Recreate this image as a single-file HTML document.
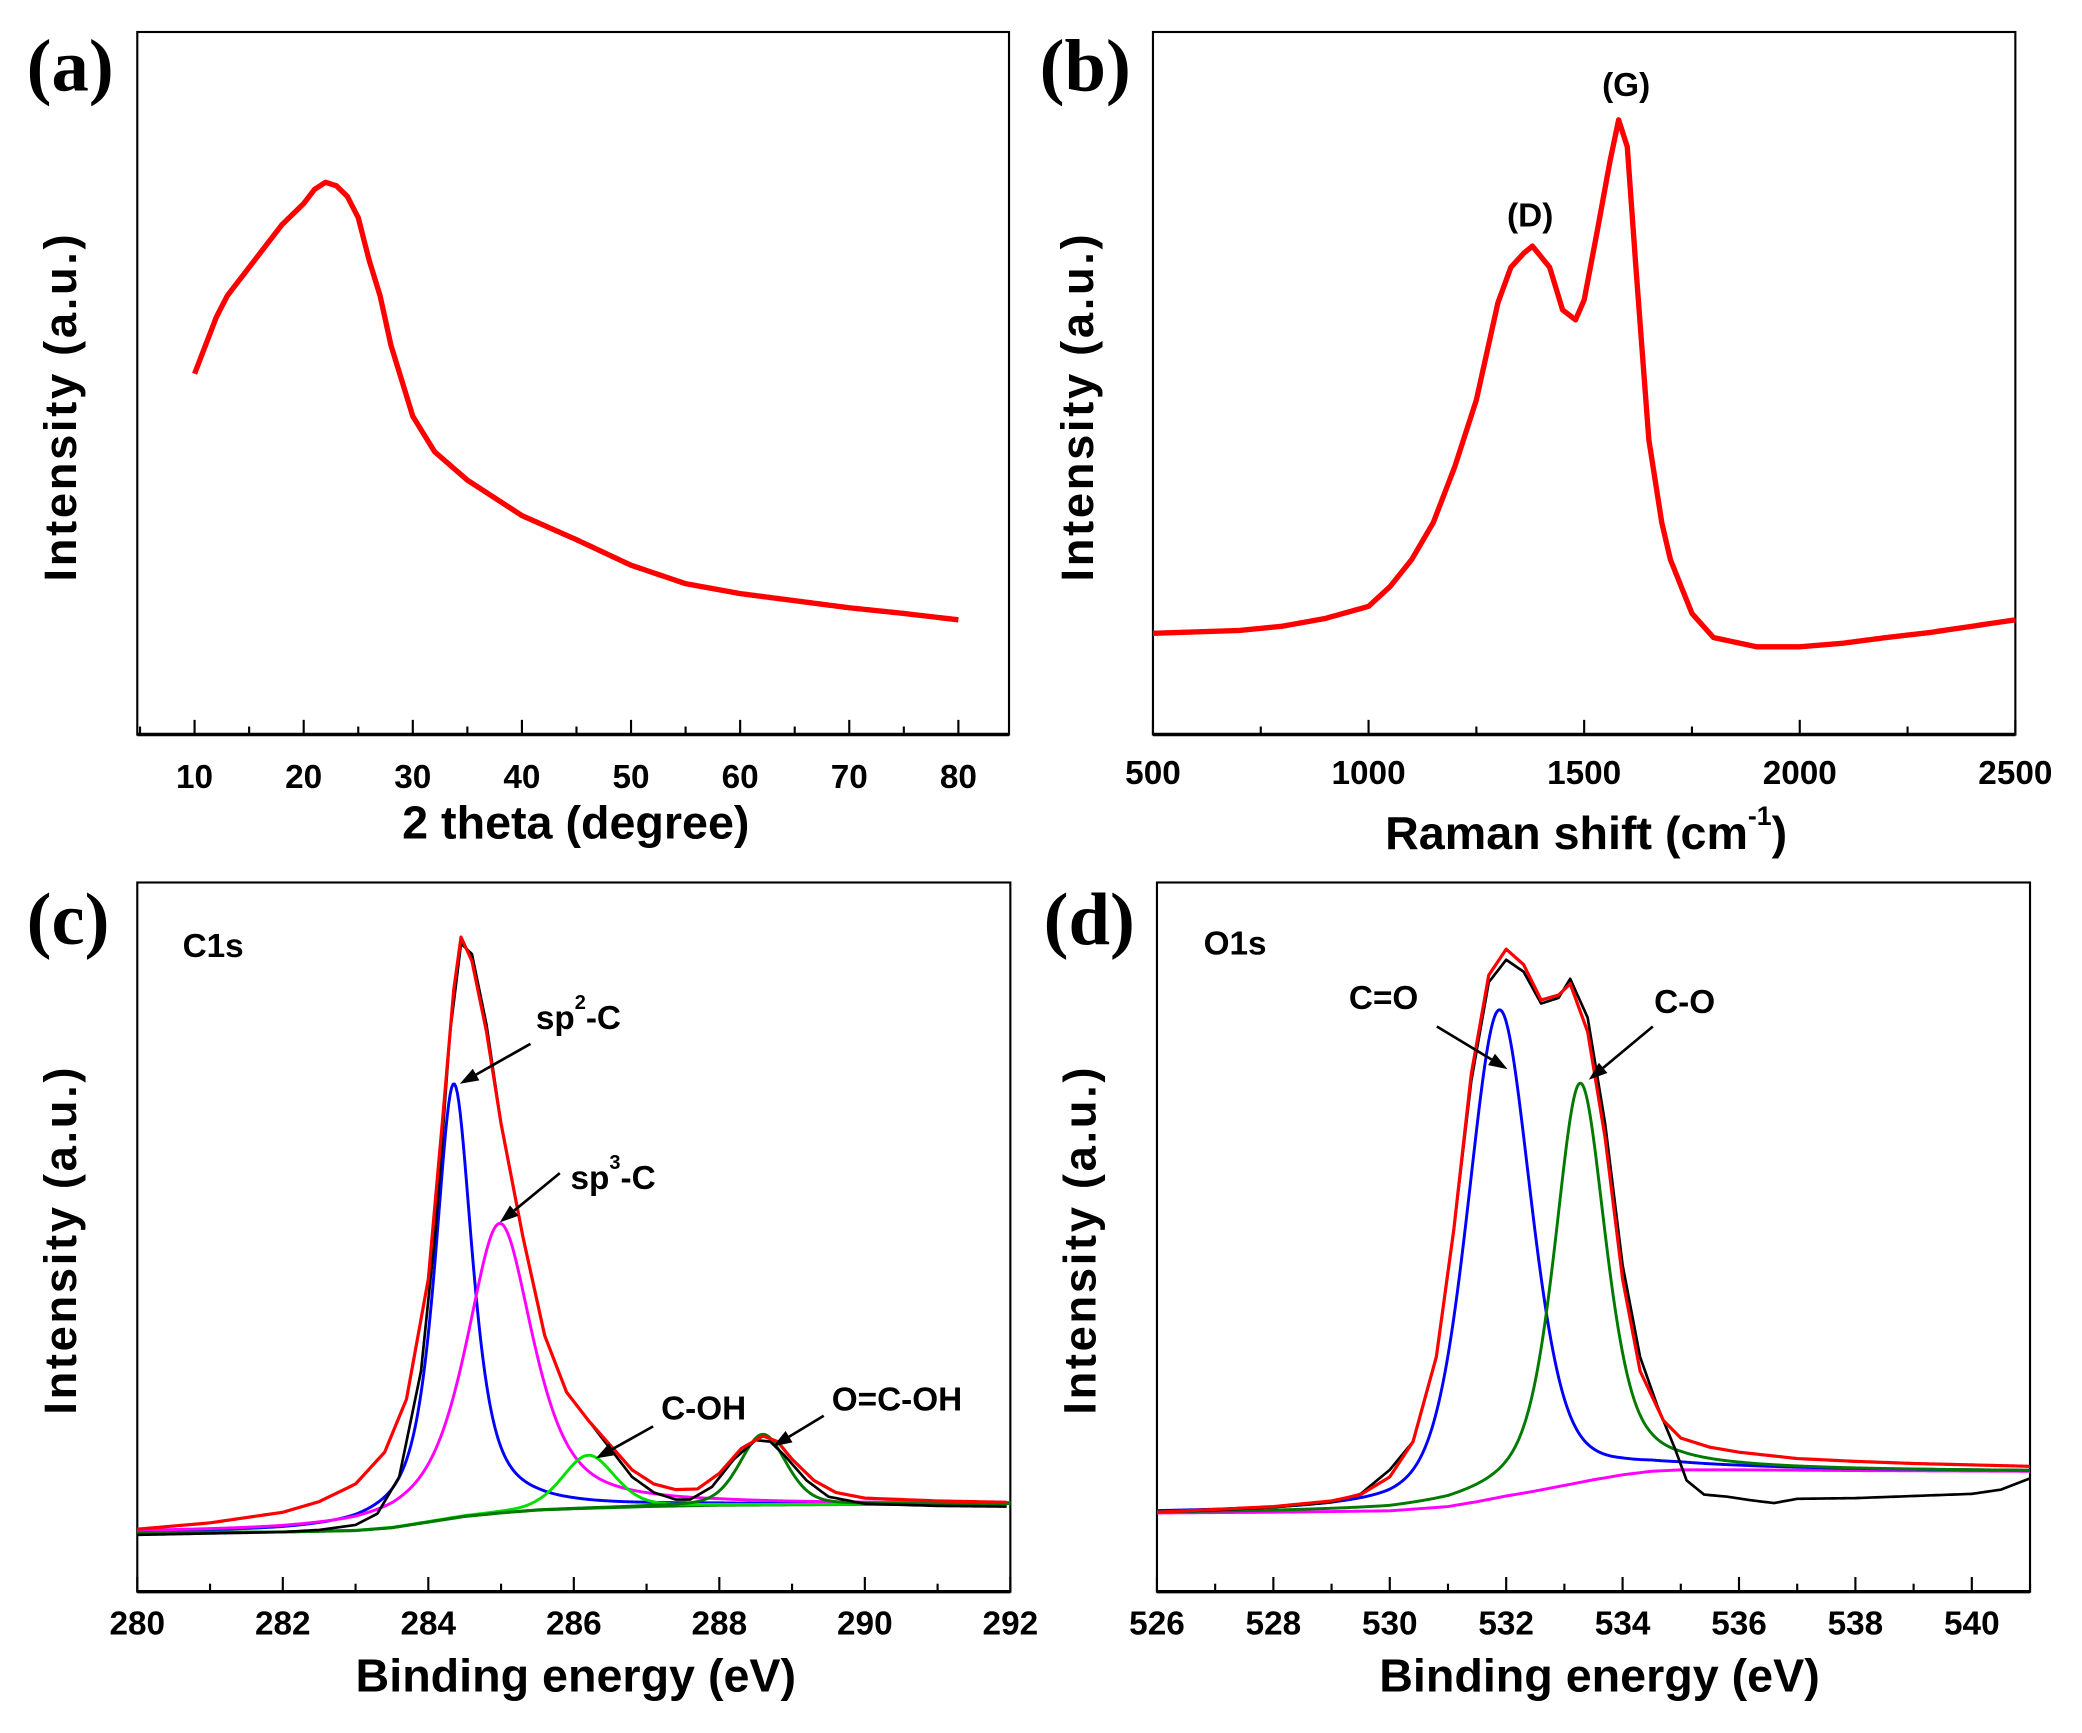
<!DOCTYPE html>
<html><head><meta charset="utf-8">
<style>
html,body{margin:0;padding:0;background:#fff;}
svg{display:block;}
text{font-family:"Liberation Sans",Arial,sans-serif;font-weight:bold;fill:#000;}
.tick{font-size:25px;}
.xt{font-size:35px;}
.yt{font-size:34px;letter-spacing:2px;}
.pl{font-family:"Liberation Serif",serif;font-size:56px;}
.ann{font-size:25px;}
</style></head>
<body>
<svg id="fig" width="2082" height="1733" viewBox="0 0 1562 1300" preserveAspectRatio="none" xmlns="http://www.w3.org/2000/svg">
<g id="root"></g>
</svg>
<script>
// ---------- Panel (a) XRD ----------
const xrdTheta = [10,11,12,13,15,17,18,20,21,22,23,24,25,26,27,28,29,30,32,35,38,40,45,50,55,60,65,70,75,80];
const xrdInt   = [52,56,60,63,67,71,73,76,78,79,78.5,77,74,68,63,56,51,46,41,37,34,32,28.6,25,22.4,21,20,19,18.2,17.3];
const xrdTicks = [10,20,30,40,50,60,70,80];
// ---------- Panel (b) Raman ----------
const ramanShift = [500,600,700,800,900,1000,1050,1100,1150,1200,1250,1300,1330,1360,1380,1420,1450,1480,1500,1530,1560,1580,1600,1620,1650,1680,1700,1750,1800,1900,2000,2100,2200,2300,2400,2500];
const ramanInt   = [15.4,15.6,15.8,16.4,17.5,19.2,22,25.8,31,38.9,48.3,62,67,69,70,67,61,59.6,62.4,72,82,87.8,84,67,42.7,31,25.8,18.2,14.8,13.5,13.5,14,14.8,15.5,16.4,17.3];
const ramanTicks = [500,1000,1500,2000,2500];
// ---------- Panel (c) C1s ----------
const c1sTicks = [280,282,284,286,288,290,292];
const c1sBgE   = [280,282,283,283.5,284,284.5,285,285.5,286,287,288,290,292];
const c1sBgV   = [9.1,9.2,9.4,9.8,10.6,11.4,11.9,12.3,12.5,12.8,13,13.1,13.2];
const c1sNames   = ["sp2","sp3","coh","ocoh"];
const c1sCenters = [284.35,284.98,286.2,288.6];
const c1sHeights = [61.5,41,7.5,10];
const c1sFwhm    = [0.62,1.1,0.85,0.75];
const c1sEta     = [0.75,0.7,0.3,0.3];
const c1sColors  = ["#0000ff","#ff00ff","#00e000","#007a00"];
const c1sEnvE = [280,281,282,282.5,283,283.4,283.7,284,284.2,284.35,284.45,284.6,284.8,285,285.3,285.6,285.9,286.2,286.5,286.8,287.1,287.4,287.7,288,288.3,288.6,288.8,289,289.3,289.6,290,291,292];
const c1sEnvV = [9.6,10.5,12,13.5,16,20.5,28,45,68,86,93.4,90,80,67,51,37,29,25,21.5,18,16,15.2,15.3,17.5,21,22.8,22,19.5,16.5,14.8,14,13.6,13.4];
const c1sExpE = [280,281,282,282.5,283,283.3,283.6,283.9,284.1,284.3,284.45,284.6,284.8,285,285.3,285.6,285.9,286.2,286.5,286.8,287.1,287.4,287.6,287.9,288.2,288.5,288.7,288.9,289.2,289.5,290,291,292];
const c1sExpV = [8.8,9.0,9.2,9.5,10.2,11.8,17,32,52,80,92.5,91,81,67,51,37,29,25,21,17,14.8,13.8,13.8,15.6,19.5,22.2,22,20,16.5,14.2,13.2,12.9,12.8];
// ---------- Panel (d) O1s ----------
const o1sTicks = [526,528,530,532,534,536,538,540];
const o1sBgE = [526,528,530,531,531.5,532,532.5,533,533.5,534,534.5,535,536,538,541];
const o1sBgV = [11.9,12,12.2,12.8,13.5,14.3,15,15.8,16.6,17.3,17.8,18,18,17.9,17.8];
const o1sCenters = [531.88,533.27];
const o1sHeights = [69,56.5];
const o1sFwhm    = [1.3,1.05];
const o1sEta     = [0.4,0.55];
const o1sColors  = ["#0000ff","#007a00"];
const o1sEnvE = [526,528,529,529.5,530,530.4,530.8,531.1,531.4,531.7,532,532.3,532.6,532.9,533.1,533.4,533.7,534,534.3,534.7,535,535.5,536,537,538,539,541];
const o1sEnvV = [12,12.8,13.6,14.5,17,22,34,52,74,88,91.7,89.5,84.5,85.2,86.8,80,65,45,32,25,22.5,21.2,20.5,19.6,19.2,18.9,18.5];
const o1sExpE = [526,527,528,529,529.5,530,530.4,530.8,531.1,531.4,531.7,532,532.3,532.6,532.9,533.1,533.4,533.7,534,534.3,534.6,534.9,535.1,535.4,535.8,536.2,536.6,537,538,539,540,540.5,541];
const o1sExpV = [12,12.3,12.7,13.4,14.6,18,22,34,52,73,87,90.2,88.5,84,84.8,87.5,82,67,47,34,27,21,16.5,14.5,14.2,13.7,13.3,13.9,14,14.3,14.6,15.2,16.8];

const NS = "http://www.w3.org/2000/svg";
const root = document.getElementById("root");
function mk(tag, attrs, parent){
  const e = document.createElementNS(NS, tag);
  for (const k in attrs) e.setAttribute(k, attrs[k]);
  (parent||root).appendChild(e);
  return e;
}
function interp(xs, ys, x){
  if (x <= xs[0]) return ys[0];
  for (let i=1;i<xs.length;i++) if (x <= xs[i]) { const t=(x-xs[i-1])/(xs[i]-xs[i-1]); return ys[i-1]+t*(ys[i]-ys[i-1]); }
  return ys[ys.length-1];
}
function pv(x,c,h,w,eta){ const d=(x-c)/(w/2); return h*(eta/(1+d*d)+(1-eta)*Math.exp(-Math.LN2*d*d)); }
function makeAxes(x0,x1,y0,y1,dmin,dmax,vmin,vmax){
  return { x: v => x0+(v-dmin)/(dmax-dmin)*(x1-x0), y: v => y1-(v-vmin)/(vmax-vmin)*(y1-y0) };
}
function frame(x0,y0,x1,y1,name){
  const g = mk("g",{});
  
  
  mk("rect",{x:x0,y:y0,width:x1-x0,height:y1-y0,fill:"none",stroke:"#000","stroke-width":1.6},g);
  mk("line",{x1:x0,y1:y1,x2:x1,y2:y1,stroke:"#000","stroke-width":2.6},g);
  return g;
}
function ticks(ax,y1,majors,minorStep,dmin,dmax,labelY,name){
  const g = mk("g",{});
  
  
  for (let v=majors[0]-minorStep*Math.floor((majors[0]-dmin)/minorStep); v<=dmax+1e-9; v+=minorStep){
    const isMajor = majors.some(m=>Math.abs(m-v)<1e-6);
    mk("line",{x1:ax.x(v),x2:ax.x(v),y1:y1,y2:y1-(isMajor?11:6),stroke:"#000","stroke-width":1.6},g);
  }
  majors.forEach(m=>{
    const t = mk("text",{x:ax.x(m),y:labelY,"text-anchor":"middle",class:"tick"},g);
    t.textContent = m;
    
    
  });
}
function path(pts,color,w,name){
  const p = mk("path",{d:"M"+pts.map(q=>q[0].toFixed(2)+","+q[1].toFixed(2)).join("L"),fill:"none",stroke:color,"stroke-width":w,"stroke-linejoin":"round"});
  
  
  return p;
}
function text(x,y,str,cls,name,extra){
  const t = mk("text",Object.assign({x:x,y:y,class:cls},extra||{}));
  t.textContent = str;
  
  
  return t;
}
function supText(x,y,a,sup,b,cls,supSize,dy,name,extra){
  const t = mk("text",Object.assign({x:x,y:y,class:cls},extra||{}));
  
  
  const s1=mk("tspan",{},t); s1.textContent=a;
  const s2=mk("tspan",{dy:-dy,style:"font-size:"+supSize+"px"},t); s2.textContent=sup;
  const s3=mk("tspan",{dy:dy},t); s3.textContent=b;
  return t;
}
function ytitle(x,y,name){
  text(0,0,"Intensity (a.u.)","yt",name,{transform:"translate("+x+","+y+") rotate(-90)","text-anchor":"middle"});
}
function arrow(x1,y1,x2,y2,name){
  const g = mk("g",{});
  
  
  const a=Math.atan2(y2-y1,x2-x1), L=14, W=5;
  const bx=x2-L*Math.cos(a), by=y2-L*Math.sin(a);
  mk("line",{x1:x1,y1:y1,x2:bx,y2:by,stroke:"#000","stroke-width":2},g);
  mk("polygon",{points:[x2,y2,bx+W*Math.sin(a),by-W*Math.cos(a),bx-W*Math.sin(a),by+W*Math.cos(a)].join(","),fill:"#000"},g);
}

// ===== Panel a =====
{
  const ax = makeAxes(103,757,25,557,4.75,84.64,0,100);
  frame(103,24,757,551,"panel-a");
  ticks(ax,551,xrdTicks,5,5,84.6,591,"panel-a");
  const pts=[]; for(let x=10;x<=80;x+=0.1) pts.push([ax.x(x),ax.y(interp(xrdTheta,xrdInt,x))]);
  path(pts,"#ff0000",4,"xrd-line");
  text(432,629,"2 theta (degree)","xt","panel-a-x-title",{"text-anchor":"middle"});
  ytitle(57,305,"panel-a-y-title");
  text(20,68,"(a)","pl","panel-a-label");
}
// ===== Panel b =====
{
  const ax = makeAxes(865,1512,25,557,500,2500,0,100);
  frame(865,24,1512,551,"panel-b");
  ticks(ax,551,ramanTicks,250,500,2500,588,"panel-b");
  const pts=[]; for(let x=500;x<=2500;x+=2) pts.push([ax.x(x),ax.y(interp(ramanShift,ramanInt,x))]);
  path(pts,"#ff0000",4,"raman-line");
  supText(1190,637,"Raman shift (cm","-1",")","xt",20,18,"panel-b-x-title",{"text-anchor":"middle"});
  ytitle(820,305,"panel-b-y-title");
  text(780,68,"(b)","pl","panel-b-label");
  text(1148,170,"(D)","ann","raman-d-band-label",{"text-anchor":"middle"});
  text(1220,72,"(G)","ann","raman-g-band-label",{"text-anchor":"middle"});
}
// ===== Panel c =====
{
  const ax = makeAxes(103,758,668,1198,280,292,0,100);
  frame(103,662,758,1194,"panel-c");
  ticks(ax,1194,c1sTicks,1,280,292,1226,"panel-c");
  const comp = c1sCenters.map(()=>[]);
  for(let x=280;x<=292.0001;x+=0.02){
    const bg=interp(c1sBgE,c1sBgV,x);
    c1sCenters.forEach((c,i)=>{ const v=pv(x,c,c1sHeights[i],c1sFwhm[i],c1sEta[i]); comp[i].push([ax.x(x),ax.y(bg+v)]); });
  }
  const bgp=[]; for(let x=280;x<=292;x+=0.05) bgp.push([ax.x(x),ax.y(interp(c1sBgE,c1sBgV,x))]);
  path(bgp,"#007a00",2.2,"c1s-background");
  comp.forEach((p,i)=>path(p,c1sColors[i],2.2,"c1s-component-"+c1sNames[i]));
  const exp=[]; for(let x=280;x<=292;x+=0.05) exp.push([ax.x(x),ax.y(interp(c1sExpE,c1sExpV,x))]);
  path(exp,"#000",2,"c1s-experimental");
  const env=[]; for(let x=280;x<=292;x+=0.05) env.push([ax.x(x),ax.y(interp(c1sEnvE,c1sEnvV,x))]);
  path(env,"#ff0000",2.4,"c1s-envelope");
  text(20,708,"(c)","pl","panel-c-label");
  text(137,718,"C1s","ann","c1s-title");
  supText(402,772,"sp","2","-C","ann",15,15,"sp2-label");
  supText(428,892,"sp","3","-C","ann",15,15,"sp3-label");
  text(496,1065,"C-OH","ann","coh-label");
  text(624,1058,"O=C-OH","ann","ocoh-label");
  arrow(398,783,345,813,"sp2-arrow");
  arrow(420,880,375,917,"sp3-arrow");
  arrow(490,1070,447,1094,"coh-arrow");
  arrow(618,1062,580,1085,"ocoh-arrow");
  text(432,1269,"Binding energy (eV)","xt","panel-c-x-title",{"text-anchor":"middle"});
  ytitle(57,930,"panel-c-y-title");
}
// ===== Panel d =====
{
  const ax = makeAxes(868,1523,668,1198,526,541,0,100);
  frame(868,662,1523,1194,"panel-d");
  ticks(ax,1194,o1sTicks,1,526,541,1226,"panel-d");
  const comp = o1sCenters.map(()=>[]);
  for(let x=526;x<=541.0001;x+=0.02){
    const bg=interp(o1sBgE,o1sBgV,x);
    o1sCenters.forEach((c,i)=>{ const v=pv(x,c,o1sHeights[i],o1sFwhm[i],o1sEta[i]); comp[i].push([ax.x(x),ax.y(bg+v)]); });
  }
  const bgp=[]; for(let x=526;x<=541;x+=0.05) bgp.push([ax.x(x),ax.y(interp(o1sBgE,o1sBgV,x))]);
  path(bgp,"#ff00ff",2.2,"o1s-background");
  path(comp[0],o1sColors[0],2.2,"o1s-component-c-double-o");
  path(comp[1],o1sColors[1],2.2,"o1s-component-c-o");
  const exp=[]; for(let x=526;x<=541;x+=0.05) exp.push([ax.x(x),ax.y(interp(o1sExpE,o1sExpV,x))]);
  path(exp,"#000",2,"o1s-experimental");
  const env=[]; for(let x=526;x<=541;x+=0.05) env.push([ax.x(x),ax.y(interp(o1sEnvE,o1sEnvV,x))]);
  path(env,"#ff0000",2.4,"o1s-envelope");
  text(783,708,"(d)","pl","panel-d-label");
  text(903,716,"O1s","ann","o1s-title");
  text(1012,757,"C=O","ann","c-double-o-label");
  text(1241,760,"C-O","ann","c-o-label");
  arrow(1078,770,1131,802,"c-double-o-arrow");
  arrow(1240,770,1192,810,"c-o-arrow");
  text(1200,1269,"Binding energy (eV)","xt","panel-d-x-title",{"text-anchor":"middle"});
  ytitle(822,930,"panel-d-y-title");
}
</script>
</body></html>
